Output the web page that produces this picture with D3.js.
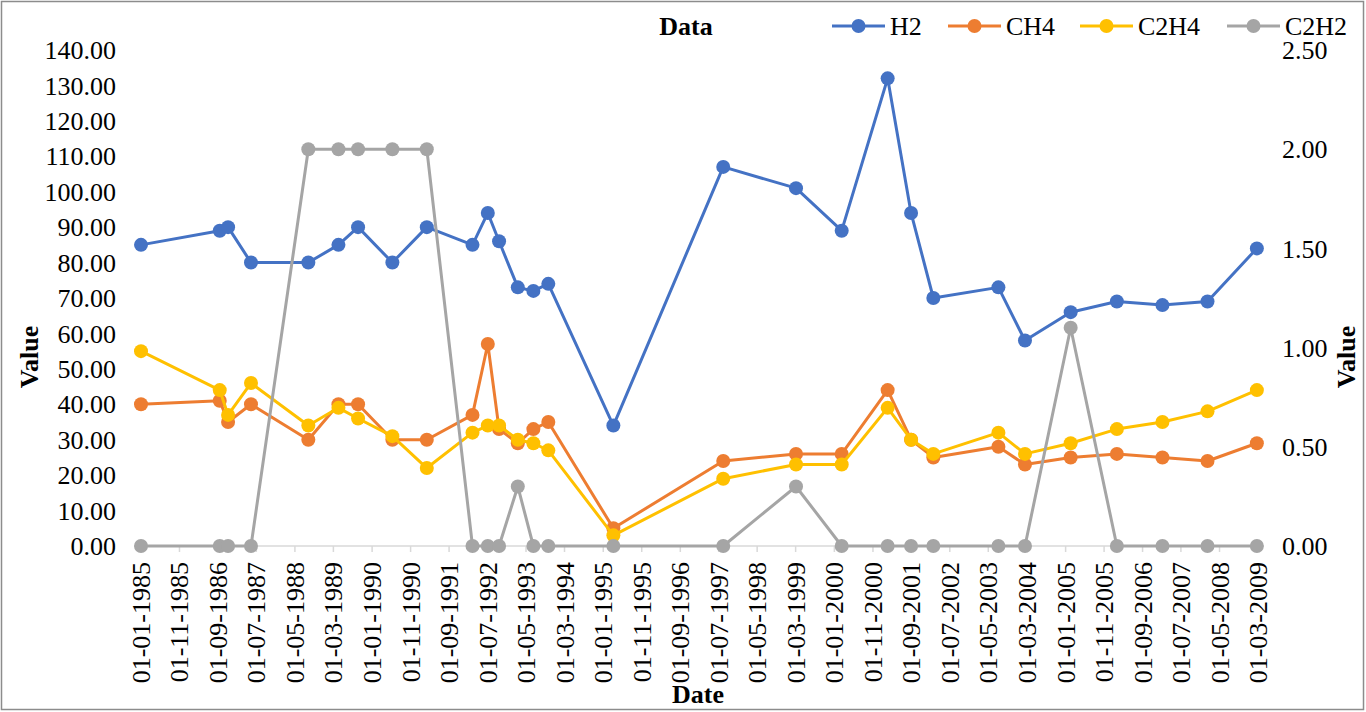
<!DOCTYPE html>
<html>
<head>
<meta charset="utf-8">
<script src="https://cdn.jsdelivr.net/npm/d3@7"></script>
<style>
  body { margin: 0; background: #fff; }
  text { font-family: "Liberation Serif", "Times New Roman", serif; fill: #000; }
</style>
</head>
<body>
<div id="chart"></div>
<script>
// Sample dates (dd-mm-yyyy) and gas readings
const dates = [
    "01-01-1985", "15-09-1986", "20-11-1986", "20-05-1987", "15-08-1988", "10-04-1989",
    "12-09-1989", "10-06-1990", "09-03-1991", "04-03-1992", "03-07-1992", "30-09-1992",
    "25-02-1993", "28-06-1993", "24-10-1993", "22-03-1995", "06-08-1997", "04-03-1999",
    "28-02-2000", "25-02-2001", "29-08-2001", "21-02-2002", "20-07-2003", "15-02-2004",
    "10-02-2005", "10-02-2006", "05-02-2007", "27-01-2008", "20-02-2009"
];
const h2 = [85, 89, 90, 80, 80, 85, 90, 80, 90, 85, 94, 86, 73, 72, 74, 34, 107, 101, 89, 132, 94, 70, 73, 58, 66, 69, 68, 69, 84];
const ch4 = [40, 41, 35, 40, 30, 40, 40, 30, 30, 37, 57, 33, 29, 33, 35, 5, 24, 26, 26, 44, 30, 25, 28, 23, 25, 26, 25, 24, 29];
const c2h4 = [55, 44, 37, 46, 34, 39, 36, 31, 22, 32, 34, 34, 30, 29, 27, 3, 19, 23, 23, 39, 30, 26, 32, 26, 29, 33, 35, 38, 44];
const c2h2 = [0, 0, 0, 0, 2, 2, 2, 2, 2, 0, 0, 0, 0.3, 0, 0, 0, 0, 0.3, 0, 0, 0, 0, 0, 0, 1.1, 0, 0, 0, 0];

// Axis tick labels
const tickLabels = [
    "01-01-1985", "01-11-1985", "01-09-1986", "01-07-1987", "01-05-1988", "01-03-1989",
    "01-01-1990", "01-11-1990", "01-09-1991", "01-07-1992", "01-05-1993", "01-03-1994",
    "01-01-1995", "01-11-1995", "01-09-1996", "01-07-1997", "01-05-1998", "01-03-1999",
    "01-01-2000", "01-11-2000", "01-09-2001", "01-07-2002", "01-05-2003", "01-03-2004",
    "01-01-2005", "01-11-2005", "01-09-2006", "01-07-2007", "01-05-2008", "01-03-2009"
];
const leftTicks = [0, 10, 20, 30, 40, 50, 60, 70, 80, 90, 100, 110, 120, 130, 140];
const rightTicks = [0, 0.5, 1, 1.5, 2, 2.5];

const seriesNames = ["H2", "CH4", "C2H4", "C2H2"];
const seriesColors = ["#4472C4", "#ED7D31", "#FFC000", "#A5A5A5"];

const width = 1366;
const height = 712;
const fontSize = 26;

const parseDate = d3.timeParse("%d-%m-%Y");

const svg = d3.select("#chart")
    .append("svg")
    .attr("width", width)
    .attr("height", height);

// chart border
svg.append("rect")
    .attr("x", 1.5).attr("y", 1.5)
    .attr("width", width - 4).attr("height", height - 4)
    .attr("fill", "#fff")
    .attr("stroke", "#8c8c8c")
    .attr("stroke-width", 1.5);

// Scales
const x = d3.scaleTime()
    .domain([parseDate(tickLabels[0]), parseDate(tickLabels[tickLabels.length - 1])])
    .range([141, 1258]);
const yLeft = d3.scaleLinear().domain([0, 140]).range([546, 50]);
const yRight = d3.scaleLinear().domain([0, 2.5]).range([546, 50]);

// x axis line + ticks
svg.append("line")
    .attr("x1", 134).attr("x2", 1264)
    .attr("y1", yLeft(0)).attr("y2", yLeft(0))
    .attr("stroke", "#d9d9d9")
    .attr("stroke-width", 1.5);

const xTicks = svg.append("g");
tickLabels.forEach(lbl => {
    const tx = x(parseDate(lbl));
    xTicks.append("line")
        .attr("x1", tx).attr("x2", tx)
        .attr("y1", yLeft(0)).attr("y2", yLeft(0) + 6)
        .attr("stroke", "#d9d9d9")
        .attr("stroke-width", 1.5);
    xTicks.append("text")
        .attr("transform", `translate(${tx + 9}, ${yLeft(0) + 16}) rotate(-90)`)
        .attr("text-anchor", "end")
        .style("font-size", fontSize + "px")
        .text(lbl);
});

// left axis labels
svg.append("g").selectAll("text")
    .data(leftTicks)
    .enter()
    .append("text")
    .attr("x", 116)
    .attr("y", d => yLeft(d))
    .attr("dy", "0.35em")
    .attr("text-anchor", "end")
    .style("font-size", fontSize + "px")
    .text(d => d.toFixed(2));

// right axis labels
svg.append("g").selectAll("text")
    .data(rightTicks)
    .enter()
    .append("text")
    .attr("x", 1282)
    .attr("y", d => yRight(d))
    .attr("dy", "0.35em")
    .attr("text-anchor", "start")
    .style("font-size", fontSize + "px")
    .text(d => d.toFixed(2));

// axis titles
svg.append("text")
    .attr("transform", "translate(38, 357) rotate(-90)")
    .attr("text-anchor", "middle")
    .style("font-size", fontSize + "px")
    .style("font-weight", "bold")
    .text("Value");

svg.append("text")
    .attr("transform", "translate(1355, 357) rotate(-90)")
    .attr("text-anchor", "middle")
    .style("font-size", fontSize + "px")
    .style("font-weight", "bold")
    .text("Value");

svg.append("text")
    .attr("x", 698)
    .attr("y", 703)
    .attr("text-anchor", "middle")
    .style("font-size", fontSize + "px")
    .style("font-weight", "bold")
    .text("Date");

// series lines + markers
const allSeries = [h2, ch4, c2h4, c2h2];
allSeries.forEach((vals, i) => {
    const yScale = i === 3 ? yRight : yLeft;
    const pts = vals.map((v, j) => ({ date: parseDate(dates[j]), value: v }));
    const line = d3.line()
        .x(d => x(d.date))
        .y(d => yScale(d.value));

    const g = svg.append("g");
    g.append("path")
        .datum(pts)
        .attr("d", line)
        .attr("fill", "none")
        .attr("stroke", seriesColors[i])
        .attr("stroke-width", 3)
        .attr("stroke-linejoin", "round");
    g.selectAll("circle")
        .data(pts)
        .enter()
        .append("circle")
        .attr("cx", d => x(d.date))
        .attr("cy", d => yScale(d.value))
        .attr("r", 7)
        .attr("fill", seriesColors[i]);
});

// legend
svg.append("text")
    .attr("x", 686)
    .attr("y", 26)
    .attr("dy", "0.35em")
    .attr("text-anchor", "middle")
    .style("font-size", fontSize + "px")
    .style("font-weight", "bold")
    .text("Data");

const legendX = [832, 948, 1080, 1227];
seriesNames.forEach((name, i) => {
    const lx = legendX[i];
    const g = svg.append("g");
    g.append("line")
        .attr("x1", lx).attr("x2", lx + 53)
        .attr("y1", 26).attr("y2", 26)
        .attr("stroke", seriesColors[i])
        .attr("stroke-width", 3);
    g.append("circle")
        .attr("cx", lx + 26.5).attr("cy", 26)
        .attr("r", 7)
        .attr("fill", seriesColors[i]);
    g.append("text")
        .attr("x", lx + 58)
        .attr("y", 26)
        .attr("dy", "0.35em")
        .style("font-size", fontSize + "px")
        .text(name);
});
</script>
</body>
</html>
